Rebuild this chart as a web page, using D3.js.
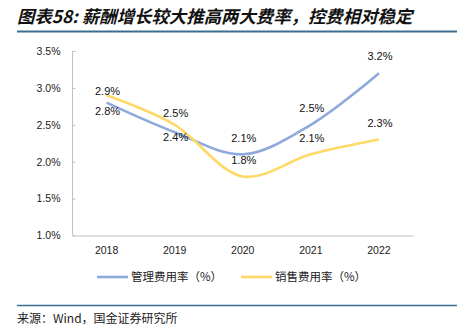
<!DOCTYPE html>
<html><head><meta charset="utf-8">
<script src="https://cdn.jsdelivr.net/npm/d3@7/dist/d3.min.js"></script>
<style>
html,body{margin:0;padding:0;background:#fff;}
svg{display:block;}
</style></head>
<body><svg id="c" width="459" height="329"></svg>
<script>
const categories = ["2018","2019","2020","2021","2022"];
const mgmtRate = [2.8, 2.4, 2.1, 2.5, 3.2];
const salesRate = [2.9, 2.5, 1.8, 2.1, 2.3];
const yTicks = [1.0, 1.5, 2.0, 2.5, 3.0, 3.5];
const seriesNames = ["管理费用率（%）", "销售费用率（%）"];
const seriesColors = ["#8eaadb", "#ffd965"];
const labelOffsets = [[8.5, 5, -16, -17, -17], [-4, -12, -16, -16.5, -17]];
const titleText = "图表58:  薪酬增长较大推高两大费率，控费相对稳定";
const sourceText = "来源：Wind，国金证券研究所";

const svg = d3.select("#c");
const cjk = "'Noto Sans CJK SC', sans-serif";
const latin = "'Liberation Sans', Arial, sans-serif";

// Title
svg.append("text").attr("x", 17).attr("y", 23)
  .attr("font-family", cjk).attr("font-size", 17.4).attr("font-weight", "bold")
  .attr("font-style", "italic").attr("fill", "#111")
  .text(titleText);
svg.append("line").attr("x1", 17).attr("x2", 457).attr("y1", 31.5).attr("y2", 31.5)
  .attr("stroke", "#3b6e8f").attr("stroke-width", 2);

const x = d3.scaleBand().domain(categories).range([72.5, 413]);
const y = d3.scaleLinear().domain([1.0, 3.5]).range([235.5, 51]);

// Y axis
const yAxis = d3.axisLeft(y).tickValues(yTicks).tickFormat(d => d.toFixed(1) + "%").tickSize(-3).tickPadding(12);
const yg = svg.append("g").attr("transform", "translate(72.5,0)").call(yAxis);
yg.select(".domain").attr("stroke", "#bfbfbf").attr("d", `M-0,${y(3.5)}V${y(1.0)}`);
yg.selectAll(".tick line").attr("stroke", "#bfbfbf");
yg.selectAll(".tick text").attr("font-family", latin).attr("font-size", 10.5).attr("fill", "#222");

// X axis
const xAxis = d3.axisBottom(x).tickSize(0).tickPadding(11);
const xg = svg.append("g").attr("transform", `translate(0,${y(1.0)})`).call(xAxis);
xg.select(".domain").attr("stroke", "#bfbfbf").attr("stroke-width", 1.2);
xg.selectAll(".tick text").attr("font-family", latin).attr("font-size", 10.5).attr("fill", "#222");

const cx = d => x(d) + x.bandwidth() / 2;
const line = d3.line().x((d, i) => cx(categories[i])).y(d => y(d)).curve(d3.curveCatmullRom.alpha(0.5));

[mgmtRate, salesRate].forEach((s, k) => {
  svg.append("path").datum(s).attr("d", line).attr("fill", "none")
    .attr("stroke", seriesColors[k]).attr("stroke-width", 2.6).attr("stroke-linecap", "butt");
});
[mgmtRate, salesRate].forEach((s, k) => {
  svg.append("g").selectAll("text").data(s).join("text")
    .attr("x", (d, i) => cx(categories[i]) + 1)
    .attr("y", (d, i) => y(d) + labelOffsets[k][i])
    .attr("dy", "0.36em").attr("text-anchor", "middle")
    .attr("font-family", latin).attr("font-size", 11).attr("fill", "#111")
    .text(d => d.toFixed(1) + "%");
});

// Legend
const legX = [97, 241];
seriesNames.forEach((n, k) => {
  const g = svg.append("g");
  g.append("line").attr("x1", legX[k]).attr("x2", legX[k] + 31).attr("y1", 277).attr("y2", 277)
    .attr("stroke", seriesColors[k]).attr("stroke-width", 2.6);
  g.append("text").attr("x", legX[k] + 34).attr("y", 277).attr("dy", "0.36em")
    .attr("font-family", cjk).attr("font-size", 11.5).attr("fill", "#222").text(n);
});

// Source
svg.append("line").attr("x1", 17).attr("x2", 457).attr("y1", 305.5).attr("y2", 305.5)
  .attr("stroke", "#3b6e8f").attr("stroke-width", 1.5);
svg.append("text").attr("x", 17).attr("y", 323)
  .attr("font-family", cjk).attr("font-size", 12).attr("fill", "#222").text(sourceText);
</script></body></html>
